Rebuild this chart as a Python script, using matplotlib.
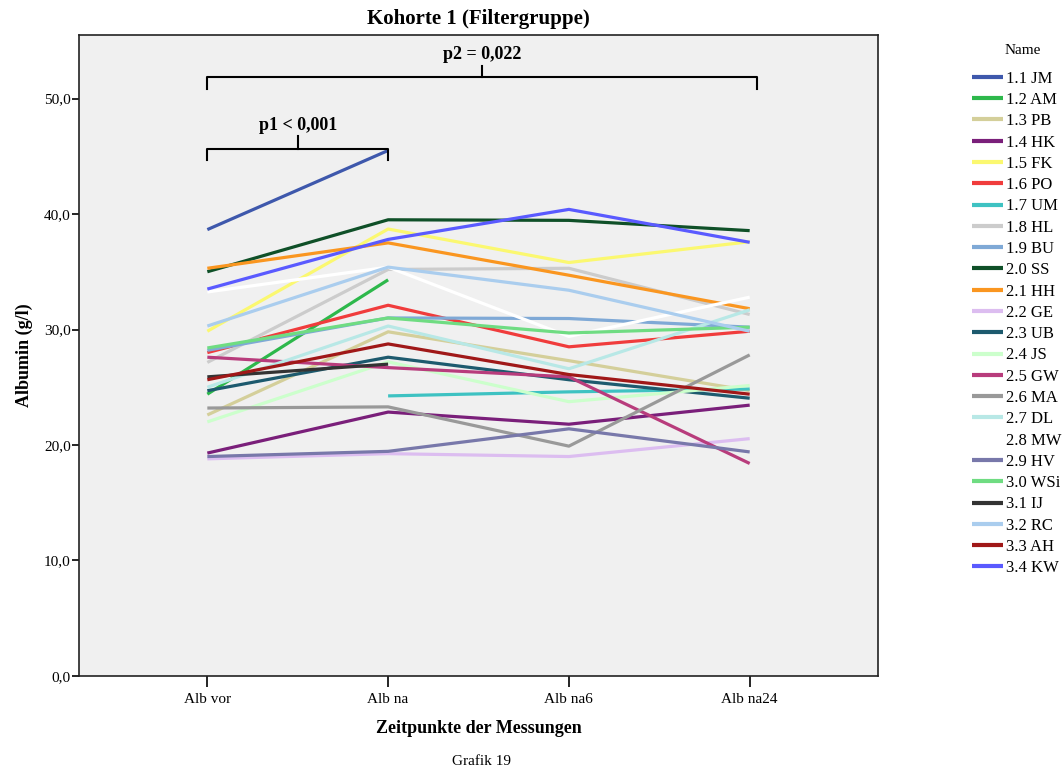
import numpy as np
import matplotlib
matplotlib.use("Agg")
import matplotlib.pyplot as plt

plt.rcParams['font.family'] = ['Liberation Serif', 'DejaVu Serif']

nan = np.nan

timepoints = ['Alb vor', 'Alb na', 'Alb na6', 'Alb na24']

# Albumin (g/l) per patient at the four measurement times
names = ['1.1 JM', '1.2 AM', '1.3 PB', '1.4 HK', '1.5 FK', '1.6 PO', '1.7 UM',
         '1.8 HL', '1.9 BU', '2.0 SS', '2.1 HH', '2.2 GE', '2.3 UB', '2.4 JS',
         '2.5 GW', '2.6 MA', '2.7 DL', '2.8 MW', '2.9 HV', '3.0 WSi', '3.1 IJ',
         '3.2 RC', '3.3 AH', '3.4 KW']

jm = [38.65, 45.5, nan, nan]
am = [24.4, 34.3, nan, nan]
pb = [22.6, 29.8, 27.3, 24.7]
hk = [19.3, 22.85, 21.8, 23.45]
fk = [29.85, 38.7, 35.8, 37.6]
po = [28.0, 32.1, 28.5, 29.85]
um = [nan, 24.25, 24.6, 24.85]
hl = [27.15, 35.2, 35.3, 31.3]
bu = [28.2, 31.0, 30.95, 30.2]
ss = [35.0, 39.5, 39.45, 38.56]
hh = [35.3, 37.5, 34.7, 31.8]
ge = [18.8, 19.25, 19.0, 20.55]
ub = [24.7, 27.6, 25.65, 24.05]
js = [22.0, 27.2, 23.75, 25.15]
gw = [27.6, 26.7, 25.9, 18.4]
ma = [23.2, 23.3, 19.9, 27.8]
dl = [25.0, 30.3, 26.6, 31.7]
mw = [33.25, 35.4, 29.4, 32.8]
hv = [19.0, 19.45, 21.4, 19.4]
wsi = [28.4, 31.0, 29.7, 30.2]
ij = [25.9, 27.0, nan, nan]
rc = [30.3, 35.4, 33.4, 29.85]
ah = [25.65, 28.75, 26.1, 24.4]
kw = [33.5, 37.8, 40.4, 37.55]

series = [jm, am, pb, hk, fk, po, um, hl, bu, ss, hh, ge, ub, js, gw, ma,
          dl, mw, hv, wsi, ij, rc, ah, kw]

colors = ['#3e58ac', '#2db84b', '#d4cf9a', '#7a1f7a', '#fbf870', '#f03c3c',
          '#3ec2c2', '#cccccc', '#7fa9d6', '#0f5028', '#fa9620', '#dcbdf0',
          '#1d5a6e', '#ccffcc', '#b83c7c', '#999999', '#b8e8e6', '#ffffff',
          '#7878aa', '#6fdc82', '#333333', '#aacdee', '#a01818', '#5a5aff']

fig = plt.figure(figsize=(10.63, 7.76), dpi=100)
ax = fig.add_axes([0.0743, 0.1289, 0.7517, 0.826])
ax.set_facecolor('#f0f0f0')

x = np.arange(len(timepoints))
for name, vals, c in zip(names, series, colors):
    ax.plot(x, vals, color=c, lw=2.3, label=name, solid_capstyle='butt')

ax.set_xlim(-0.71, 3.71)
ax.set_ylim(0, 55.5)
ax.set_yticks(np.arange(0, 51, 10))
ax.set_yticklabels([f"{v:.1f}".replace('.', ',') for v in np.arange(0, 51, 10)],
                   fontsize=11)
ax.set_xticks(x)
ax.set_xticklabels(timepoints, fontsize=11)
ax.tick_params(axis='y', length=5, width=1.2, direction='out', pad=1)
ax.tick_params(axis='x', length=8, width=1.2, direction='out', pad=4)
for s in ax.spines.values():
    s.set_linewidth(1.2)
    s.set_color('#222222')

ax.set_title('Kohorte 1 (Filtergruppe)', fontsize=15, fontweight='bold', pad=8)
ax.set_ylabel('Albumin (g/l)', fontsize=13, fontweight='bold', labelpad=8)
ax.set_xlabel('Zeitpunkte der Messungen', fontsize=13, fontweight='bold', labelpad=10)
fig.text(0.4525, 0.0193, 'Grafik 19', ha='center', va='center', fontsize=11)

# significance brackets
def bracket(x0, x1, y, drop, tick, text, ty):
    ax.plot([x0, x0, x1, x1], [y - drop, y, y, y - drop], color='black', lw=1.5,
            clip_on=False)
    xm = (x0 + x1) / 2
    ax.plot([xm, xm], [y, y + tick], color='black', lw=1.5, clip_on=False)
    ax.text(xm, ty, text, ha='center', va='center', fontsize=13, fontweight='bold')

bracket(0, 1, 45.67, 1.0, 1.1, 'p1 < 0,001', 47.7)
bracket(0, 3.04, 51.9, 1.05, 0.9, 'p2 = 0,022', 53.8)

# legend, title placed separately above the entries
fig.text(0.9624, 0.9345, 'Name', ha='center', va='center', fontsize=11)
leg = ax.legend(loc='upper left', bbox_to_anchor=(0.908, 0.9175),
                bbox_transform=fig.transFigure, frameon=False, fontsize=12,
                handlelength=1.86, handletextpad=0.18, labelspacing=0.317,
                borderaxespad=0)
for line in leg.get_lines():
    line.set_linewidth(3)

fig.savefig('out.png', dpi=100)
